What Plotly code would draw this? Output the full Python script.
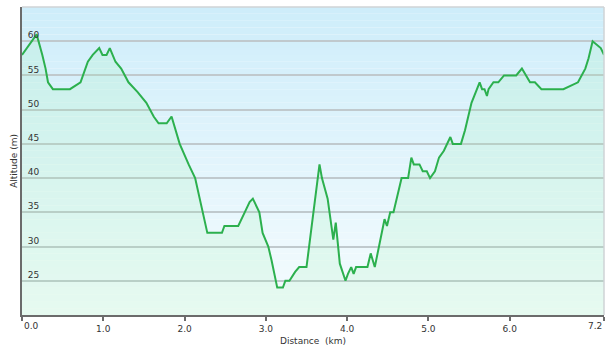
import plotly.graph_objects as go

# Distance along route (km) and altitude (m)
dist = [0.00, 0.06, 0.11, 0.14, 0.18, 0.25, 0.29, 0.32, 0.38, 0.59, 0.72, 0.81, 0.87, 0.95,
        0.99, 1.04, 1.08, 1.15, 1.22, 1.31, 1.42, 1.53, 1.62, 1.68, 1.78, 1.84, 1.94, 2.05,
        2.13, 2.28, 2.46, 2.49, 2.66, 2.74, 2.80, 2.84, 2.88, 2.92, 2.96, 3.00, 3.03, 3.07,
        3.14, 3.21, 3.24, 3.29, 3.36, 3.41, 3.50, 3.66, 3.69, 3.76, 3.83, 3.86, 3.91, 3.98,
        4.01, 4.05, 4.08, 4.11, 4.25, 4.29, 4.34, 4.46, 4.49, 4.53, 4.57, 4.67, 4.75, 4.79,
        4.82, 4.89, 4.93, 4.98, 5.02, 5.08, 5.13, 5.19, 5.27, 5.30, 5.40, 5.45, 5.53, 5.58,
        5.63, 5.66, 5.69, 5.72, 5.74, 5.80, 5.86, 5.93, 6.08, 6.15, 6.25, 6.31, 6.39, 6.66,
        6.84, 6.93, 6.97, 7.02, 7.12, 7.16]
alt = [58, 59, 60, 60.5, 61, 58, 56, 54, 53, 53, 54, 57, 58, 59,
       58, 58, 59, 57, 56, 54, 52.6, 51, 49, 48, 48, 49, 45, 42,
       40, 32, 32, 33, 33, 35, 36.5, 37, 36, 35, 32, 31, 30, 28,
       24, 24, 25, 25, 26.3, 27, 27, 42, 40, 37, 31, 33.5, 27.5, 25,
       26, 27, 26, 27, 27, 29, 27, 34, 33, 35, 35, 40, 40, 43,
       42, 42, 41, 41, 40, 41, 43, 44, 46, 45, 45, 47, 51, 52.5,
       54, 53, 53, 52, 53, 54, 54, 55, 55, 56, 54, 54, 53, 53,
       54, 56, 57.5, 60, 59, 58]

x_tick_vals = [0, 1, 2, 3, 4, 5, 6]
x_tick_text = ["0.0", "1.0", "2.0", "3.0", "4.0", "5.0", "6.0", "7.2"]
y_tick_vals = [25, 30, 35, 40, 45, 50, 55, 60]
y_range = [20, 65]
x_title = "Distance\u00a0 (km)"
y_title = "Altitude (m)"

FONT = "Tahoma, DejaVu Sans, sans-serif"
TXT = "#333333"

# The two edge labels are drawn as annotations aligned inward (as in the reference)
all_tick_vals = x_tick_vals + [dist[-1]]
tick_text = [""] + x_tick_text[1:-1] + [""]

fig = go.Figure()

# Background vertical gradient (light sky blue at top -> near white at bottom)
top_c = (206, 237, 250)
bot_c = (246, 252, 254)
shapes = []
n = 45
for i in range(n):
    y0 = y_range[0] + (y_range[1] - y_range[0]) * i / n
    y1 = y_range[0] + (y_range[1] - y_range[0]) * (i + 1) / n
    t = (i + 0.5) / n
    c = tuple(round(bot_c[k] + (top_c[k] - bot_c[k]) * t) for k in range(3))
    shapes.append(dict(type="rect", xref="paper", yref="y", x0=0, x1=1, y0=y0, y1=y1,
                       fillcolor="rgb(%d,%d,%d)" % c, line=dict(width=0), layer="below"))
# light frame on top and right
shapes.append(dict(type="line", xref="paper", yref="paper", x0=0, x1=1, y0=1, y1=1,
                   line=dict(color="#cfd3d6", width=1.5), layer="above"))
shapes.append(dict(type="line", xref="paper", yref="paper", x0=1, x1=1, y0=0, y1=1,
                   line=dict(color="#cfd3d6", width=1.5), layer="above"))

fig.add_trace(go.Scatter(
    x=dist, y=alt, mode="lines",
    line=dict(color="rgb(44,176,78)", width=2),
    fill="tozeroy", fillcolor="rgba(150,245,165,0.16)",
    hoverinfo="skip", showlegend=False,
))

lab_font = dict(family=FONT, size=9, color=TXT)
annotations = [
    dict(text=x_title, xref="paper", yref="paper", x=0.5, y=-0.085,
         xanchor="center", yanchor="middle", showarrow=False, font=lab_font),
    dict(text=y_title, xref="paper", yref="paper", x=-0.014, y=0.5,
         xanchor="center", yanchor="middle", textangle=-90, showarrow=False, font=lab_font),
    dict(text=x_tick_text[0], xref="x", yref="paper", x=all_tick_vals[0], y=0,
         yshift=-11, xanchor="left", yanchor="middle", showarrow=False, font=lab_font),
    dict(text=x_tick_text[-1], xref="x", yref="paper", x=all_tick_vals[-1], y=0,
         yshift=-11, xanchor="right", yanchor="middle", showarrow=False, font=lab_font),
]

fig.update_layout(
    width=609, height=351,
    margin=dict(l=22, r=5, t=7, b=36),
    paper_bgcolor="white", plot_bgcolor="white",
    shapes=shapes,
    font=lab_font,
    xaxis=dict(
        range=[0, dist[-1]], automargin=False,
        tickvals=all_tick_vals, ticktext=tick_text,
        showgrid=False, zeroline=False,
        showline=True, linecolor="#6b6b6b", linewidth=2,
        ticks="outside", ticklen=4, tickwidth=1.5, tickcolor="#6b6b6b",
        ticklabeloverflow="allow",
        tickfont=lab_font,
    ),
    yaxis=dict(
        range=y_range, automargin=False,
        tickvals=y_tick_vals,
        showgrid=True, gridcolor="rgb(192,201,205)", gridwidth=1.5,
        zeroline=False,
        showline=True, linecolor="#6b6b6b", linewidth=2,
        ticks="", ticklabelposition="outside",
        ticklabeloverflow="allow",
        ticklabelshift=-6, ticklabelstandoff=-21,
        tickfont=lab_font,
    ),
    annotations=annotations,
)

fig.write_html("out.html")
